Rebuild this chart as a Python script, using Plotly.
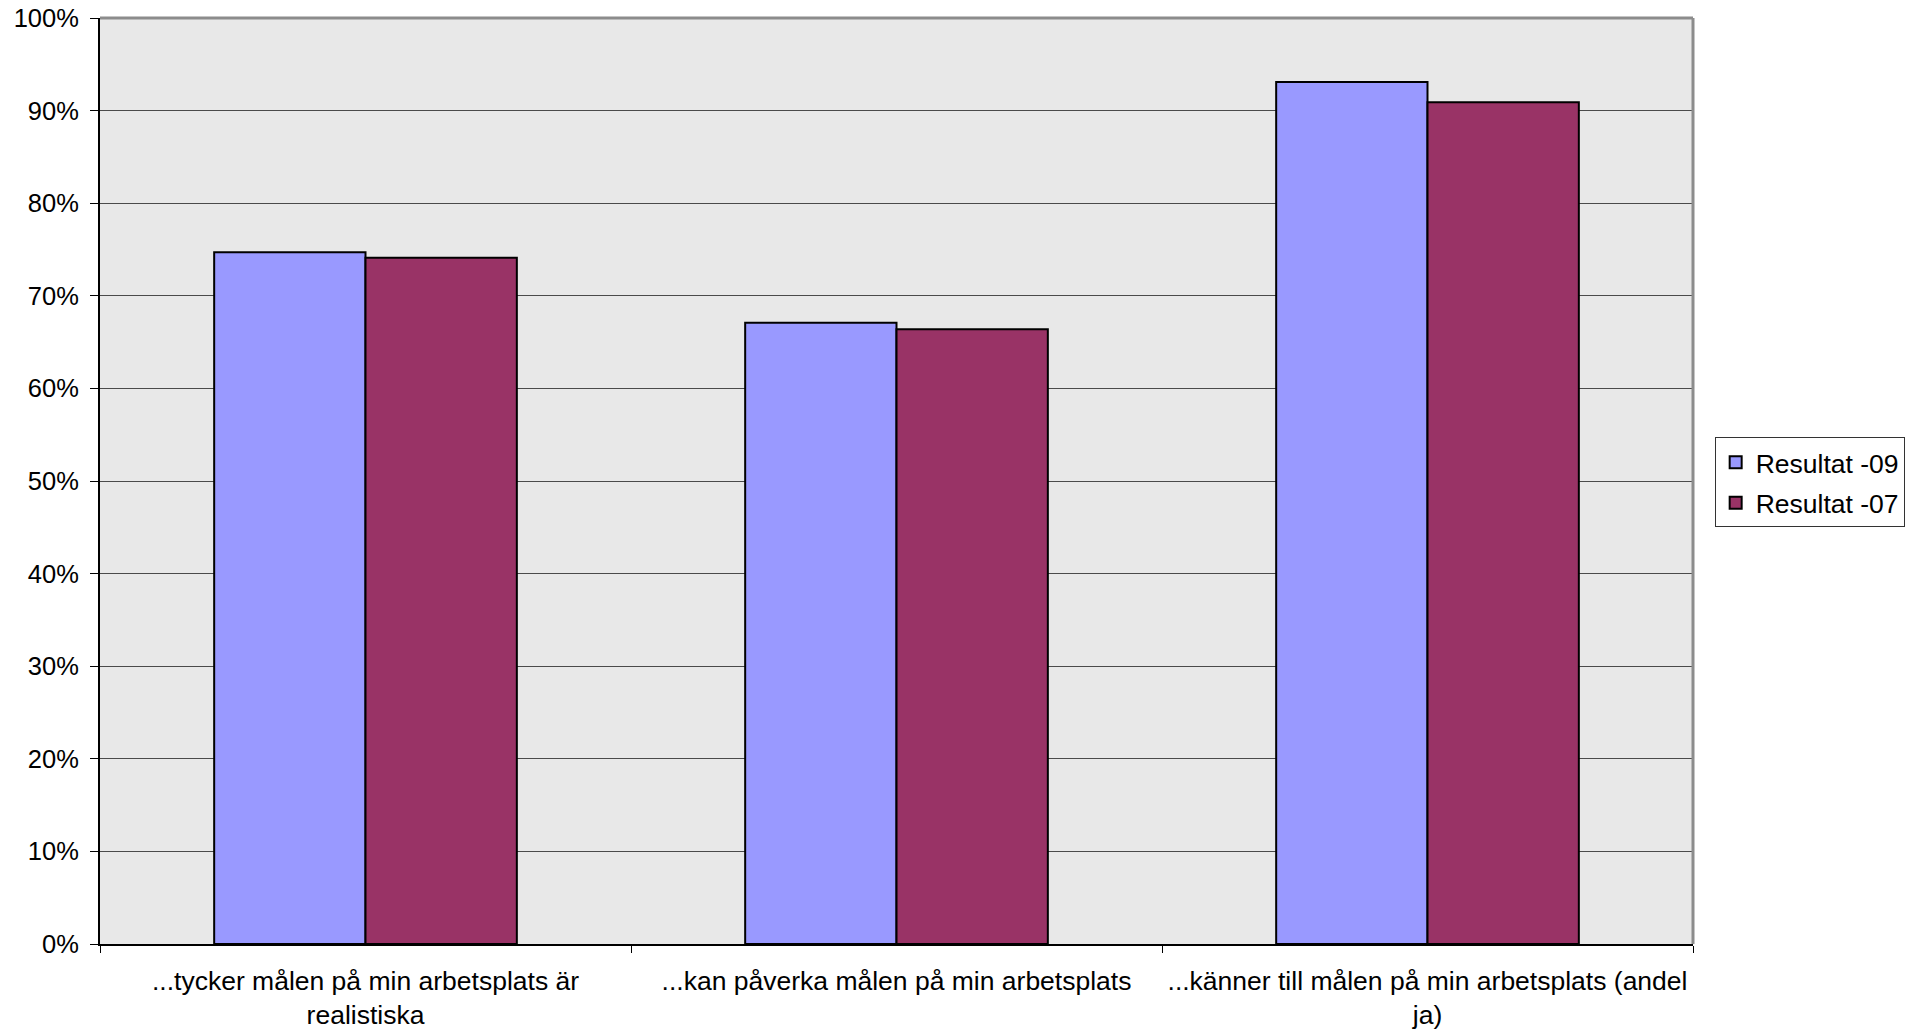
import plotly.graph_objects as go

categories = [
    "...tycker målen på min arbetsplats är<br>realistiska",
    "...kan påverka målen på min arbetsplats",
    "...känner till målen på min arbetsplats (andel<br>ja)",
]
series_names = ["Resultat -09", "Resultat -07"]
values_09 = [0.747, 0.671, 0.931]
values_07 = [0.741, 0.664, 0.909]
colors = ["#9999FF", "#993366"]
y_ticks = [i / 10 for i in range(11)]

FONT = "Arial, Liberation Sans, sans-serif"

fig = go.Figure()
for i, (name, vals, col) in enumerate(zip(series_names, [values_09, values_07], colors)):
    fig.add_trace(go.Bar(
        x=categories, y=vals, name=name, legendgroup=f"g{i}",
        marker=dict(color=col, line=dict(color="black", width=2)),
    ))

fig.update_layout(
    width=1915, height=1033,
    margin=dict(l=100, r=222, t=18, b=89, autoexpand=False),
    paper_bgcolor="white",
    plot_bgcolor="#E8E8E8",
    barmode="group",
    bargap=0.43,
    bargroupgap=0,
    font=dict(family=FONT, size=26, color="black"),
    showlegend=True,
    legend=dict(
        x=1.0136, y=0.547, xanchor="left", yanchor="top",
        bgcolor="white", bordercolor="#333333", borderwidth=1,
        font=dict(family=FONT, size=26.5, color="black"),
        traceorder="grouped", tracegroupgap=3,
    ),
    xaxis=dict(
        showgrid=False,
        ticks="outside", ticklen=7, tickcolor="black", tickson="boundaries",
        showline=True, linecolor="black", linewidth=2,
        tickfont=dict(family=FONT, size=26.5),
        ticklabelstandoff=12,
        ticklabeloverflow="allow",
    ),
    yaxis=dict(
        range=[0, 1], tickvals=y_ticks, tickformat=".0%",
        showgrid=True, gridcolor="#4A4A4A", gridwidth=1,
        ticks="outside", ticklen=8, tickcolor="black",
        showline=True, linecolor="black", linewidth=2,
        zeroline=False,
        tickfont=dict(family=FONT, size=25.5),
        ticklabelstandoff=6,
        ticklabeloverflow="allow",
    ),
)

# Gray border on top and right of plot area
fig.add_shape(type="line", xref="paper", yref="paper", x0=0, x1=1, y0=1, y1=1,
              line=dict(color="#8C8C8C", width=3))
fig.add_shape(type="line", xref="paper", yref="paper", x0=1, x1=1, y0=0, y1=1,
              line=dict(color="#8C8C8C", width=3))

# remove the default 8px page margin so the figure fills the window exactly
fig.write_html("out.html", config={"displayModeBar": False},
               post_script="document.body.style.margin='0';")
